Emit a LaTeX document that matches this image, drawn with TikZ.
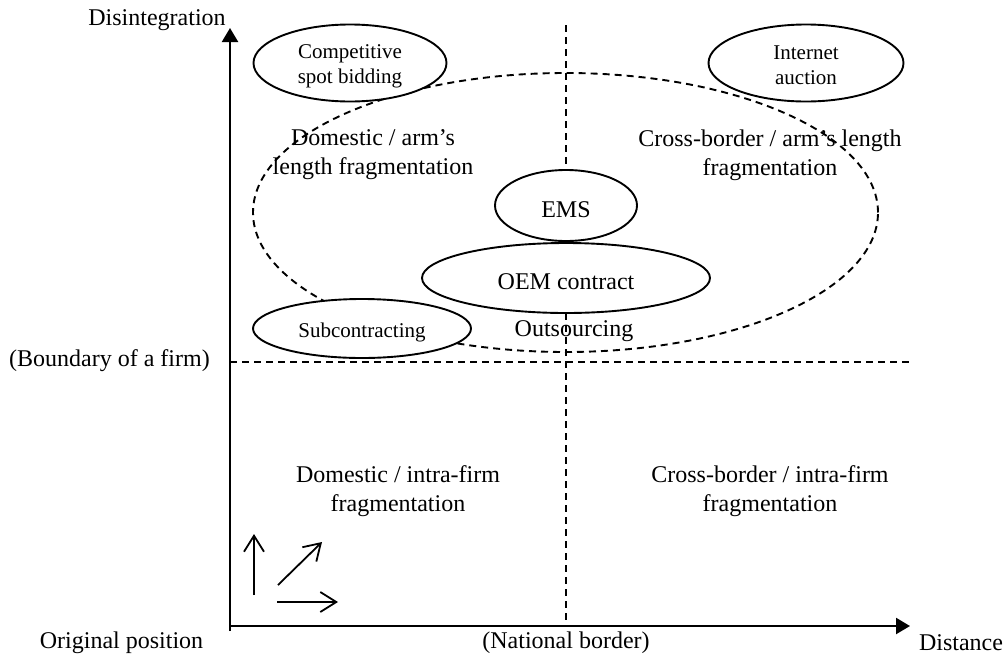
\documentclass[tikz,border=0pt]{standalone}
\usepackage{fontspec}
\setmainfont{Liberation Serif}
\usetikzlibrary{shapes.geometric,arrows.meta}
\begin{document}
\begin{tikzpicture}[x=1pt,y=-1pt,
  big/.style={font=\fontsize{24}{29}\selectfont, align=center, inner sep=0pt},
  small/.style={font=\fontsize{21}{25}\selectfont, align=center, inner sep=0pt},
  solidell/.style={draw, ellipse, fill=white, line width=1.9pt, inner sep=0pt},
  dashline/.style={line width=1.9pt, dash pattern=on 7pt off 5pt},
  axis/.style={line width=2.2pt, -{Triangle[length=14pt,width=16pt]}},
  smallarrow/.style={line width=1.8pt, -{Straight Barb[length=16pt,width=20pt]}}]
\useasboundingbox (0,0) rectangle (1008,659);
\fill[white] (0,0) rectangle (1008,659);

% coordinates
\coordinate (ybot) at (230,631);
\coordinate (ytop) at (230,28);
\coordinate (xl) at (230,626);
\coordinate (xr) at (910,626);
\coordinate (nbtop) at (566,25);
\coordinate (nbbot) at (566,626);
\coordinate (bfl) at (230,362);
\coordinate (bfr) at (909,362);

% dashed borders
\draw[dashline] (nbtop) -- (nbbot);
\draw[dashline] (bfl) -- (bfr);

% outsourcing region
\node[draw, dashline, ellipse, minimum width=625pt, minimum height=279pt, inner sep=0pt] (outs) at (565.5,212.5) {};

% axes
\draw[axis] (ybot) -- (ytop);
\draw[axis] (xl) -- (xr);

% solid ellipses
\node[solidell, minimum width=193pt, minimum height=77pt] (csb) at (350,63) {};
\node[solidell, minimum width=195pt, minimum height=77pt] (ia) at (806,63) {};
\node[solidell, minimum width=142pt, minimum height=71pt] (ems) at (566,205.5) {};
\node[solidell, minimum width=288pt, minimum height=70pt] (oem) at (566,278) {};
\node[solidell, minimum width=218pt, minimum height=59pt] (sub) at (362,328.5) {};
\node[small] (csbt) at ([yshift=-3pt]csb.center) {Competitive\\spot bidding};
\node[small] (iat) at ([yshift=-2pt]ia.center) {Internet\\auction};
\node[small] (subt) at ([yshift=-3.5pt]sub.center) {Subcontracting};
\node[big] (emst) at ([yshift=-4.5pt]ems.center) {EMS};
\node[big] (oemt) at ([yshift=-4pt]oem.center) {OEM contract};

% region labels
\node[big] (dal) at (373,155) {Domestic / arm’s\\length fragmentation};
\node[big] (cal) at (770,155) {Cross-border / arm’s length\\fragmentation};
\node[big] (out) at (574,331) {Outsourcing};
\node[big] (dif) at (398,491) {Domestic / intra-firm\\fragmentation};
\node[big] (cif) at (770,491) {Cross-border / intra-firm\\fragmentation};

% axis labels
\node[big] (dis) at (157,20) {Disintegration};
\node[big] (bnd) at (109.5,361) {(Boundary of a firm)};
\node[big] (orig) at (121.5,643) {Original position};
\node[big] (nat) at (566,643) {(National border)};
\node[big] (dist) at (961,643) {Distance};

% small arrows
\coordinate (a1s) at (254,595);
\coordinate (a1e) at (254,534);
\coordinate (a2s) at (278,585);
\coordinate (a2e) at (322,542);
\coordinate (a3s) at (277,602);
\coordinate (a3e) at (338,602);
\draw[smallarrow] (a1s) -- (a1e);
\draw[smallarrow] (a2s) -- (a2e);
\draw[smallarrow] (a3s) -- (a3e);
\end{tikzpicture}
\end{document}
